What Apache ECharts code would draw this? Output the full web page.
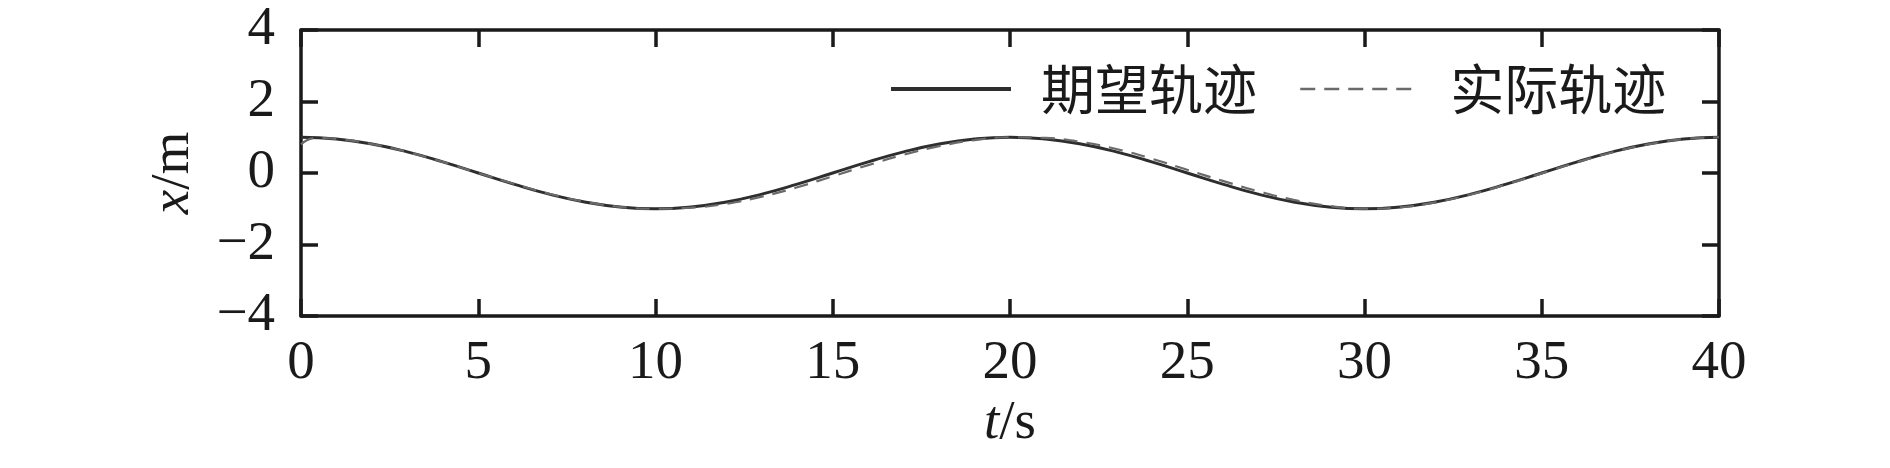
<!DOCTYPE html>
<html>
<head>
<meta charset="utf-8">
<script src="https://cdn.jsdelivr.net/npm/echarts@6/dist/echarts.min.js"></script>
<style>
  html, body { margin: 0; padding: 0; background: #fff; }
  #chart { width: 1890px; height: 468px; }
</style>
</head>
<body>
<div id="chart"></div>
<script>
// 期望轨迹 (t, x)
const desiredT = [0, 1, 2, 3, 4, 5, 6, 7, 8, 9, 10, 11, 12, 13, 14, 15, 16, 17, 18, 19, 20,
  21, 22, 23, 24, 25, 26, 27, 28, 29, 30, 31, 32, 33, 34, 35, 36, 37, 38, 39, 40];
const desiredX = [1.00, 0.95, 0.81, 0.59, 0.31, 0.00, -0.31, -0.59, -0.81, -0.95, -1.00,
  -0.95, -0.81, -0.59, -0.31, 0.00, 0.31, 0.59, 0.81, 0.95, 1.00,
  0.95, 0.81, 0.59, 0.31, 0.00, -0.31, -0.59, -0.81, -0.95, -1.00,
  -0.95, -0.81, -0.59, -0.31, 0.00, 0.31, 0.59, 0.81, 0.95, 1.00];

// 实际轨迹 (t, x)
const actualT = [0, 0.4, 1, 2, 3, 4, 5, 6, 7, 8, 9, 10, 11, 12, 13, 14, 15, 16, 17, 18, 19, 20,
  21, 22, 23, 24, 25, 26, 27, 28, 29, 30, 31, 32, 33, 34, 35, 36, 37, 38, 39, 40];
const actualX = [0.80, 0.98, 0.95, 0.81, 0.59, 0.31, 0.00, -0.30, -0.58, -0.80, -0.95, -1.00,
  -0.97, -0.86, -0.66, -0.40, -0.09, 0.22, 0.51, 0.75, 0.92, 1.00,
  0.98, 0.87, 0.67, 0.40, 0.09, -0.22, -0.51, -0.75, -0.92, -1.00,
  -0.96, -0.82, -0.60, -0.32, -0.01, 0.30, 0.58, 0.80, 0.95, 1.00];

const xTicks = { min: 0, max: 40, interval: 5 };
const yTicks = { min: -4, max: 4, interval: 2 };
const seriesNames = ["期望轨迹", "实际轨迹"];

const zip = (a, b) => a.map((v, i) => [v, b[i]]);

const serif = "'Liberation Serif', 'Times New Roman', serif";
const cjk = "'Noto Sans CJK SC', sans-serif";
const ink = "#1a1a1a";
const solidColor = "#2e2e2e";
const dashColor = "#6a6a6a";

const axisLine = { show: true, onZero: false, lineStyle: { color: ink, width: 3.5 } };
const axisTick = { show: true, inside: true, length: 17, lineStyle: { color: ink, width: 3.5 } };

const chart = echarts.init(document.getElementById("chart"));

const option = {
  animation: false,
  backgroundColor: "#fff",
  grid: { left: 301, right: 171, top: 30, bottom: 152 },
  legend: {
    left: 884,
    top: 57,
    itemWidth: 120,
    itemHeight: 20,
    itemGap: 42,
    itemStyle: { opacity: 0 },
    data: [
      { name: seriesNames[0], lineStyle: { color: solidColor, width: 4, type: "solid" } },
      { name: seriesNames[1], lineStyle: { color: dashColor, width: 2.5, type: [15, 9] } },
    ],
    textStyle: {
      fontFamily: cjk,
      fontSize: 54,
      color: ink,
      padding: [0, 0, 0, 25],
    },
  },
  xAxis: [
    {
      type: "value",
      ...xTicks,
      position: "bottom",
      name: "{i|t}/s",
      nameLocation: "middle",
      nameGap: 80,
      nameTextStyle: {
        fontFamily: serif,
        fontSize: 55,
        color: ink,
        rich: { i: { fontFamily: serif, fontSize: 55, fontStyle: "italic", color: ink } },
      },
      axisLine,
      axisTick,
      axisLabel: { fontFamily: serif, fontSize: 55, color: ink, margin: 20 },
      splitLine: { show: false },
    },
    {
      type: "value",
      ...xTicks,
      position: "top",
      axisLine,
      axisTick,
      axisLabel: { show: false },
      splitLine: { show: false },
    },
  ],
  yAxis: [
    {
      type: "value",
      ...yTicks,
      position: "left",
      name: "{i|x}/m",
      nameLocation: "middle",
      nameGap: 100,
      nameTextStyle: {
        fontFamily: serif,
        fontSize: 55,
        color: ink,
        rich: { i: { fontFamily: serif, fontSize: 55, fontStyle: "italic", color: ink } },
      },
      axisLine,
      axisTick,
      axisLabel: {
        fontFamily: serif,
        fontSize: 55,
        color: ink,
        margin: 26,
        formatter: (v) => (v < 0 ? "\u2212" + Math.abs(v) : String(v)),
      },
      splitLine: { show: false },
    },
    {
      type: "value",
      ...yTicks,
      position: "right",
      axisLine,
      axisTick,
      axisLabel: { show: false },
      splitLine: { show: false },
    },
  ],
  series: [
    {
      name: seriesNames[0],
      type: "line",
      data: zip(desiredT, desiredX),
      smooth: true,
      showSymbol: false,
      symbol: "none",
      z: 3,
      lineStyle: { color: solidColor, width: 3 },
      itemStyle: { color: solidColor },
    },
    {
      name: seriesNames[1],
      type: "line",
      data: zip(actualT, actualX),
      smooth: true,
      showSymbol: false,
      symbol: "none",
      z: 4,
      lineStyle: { color: dashColor, width: 2.2, type: [14, 9] },
      itemStyle: { color: dashColor },
    },
  ],
};

chart.setOption(option);
</script>
</body>
</html>
